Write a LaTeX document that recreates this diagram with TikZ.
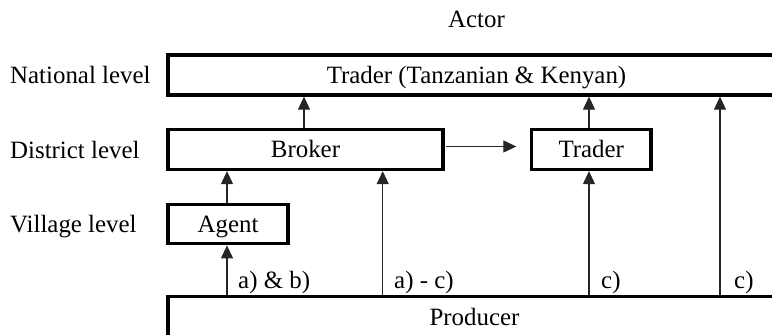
\documentclass[tikz,border=0pt]{standalone}
\usepackage{fontspec}
\setmainfont{Liberation Serif}
\usetikzlibrary{arrows.meta}
\begin{document}
\begin{tikzpicture}[x=1pt,y=-1pt,
  every node/.style={font=\fontsize{24.9}{28}\selectfont, inner sep=0pt},
  box/.style={draw, line width=3.3pt, text height=16pt, text depth=0pt},
  lvl/.style={anchor=base west},
  lab/.style={anchor=base west},
  conn/.style={line width=1.1pt, draw=black!85, -{Triangle[length=13pt,width=12pt]}}]
\useasboundingbox (0,0) rectangle (772,335);
\clip (0,0) rectangle (772,335);
% title
\node[anchor=base] (actor) at (476.5,27) {Actor};
% level labels
\node[lvl] (lnat) at (10,83) {National level};
\node[lvl] (ldis) at (10,158) {District level};
\node[lvl] (lvil) at (10,232) {Village level};
% boxes
\node[box, minimum width=617pt, minimum height=40pt] (nat) at (476.5,75) {Trader (Tanzanian \& Kenyan)};
\node[box, minimum width=275pt, minimum height=40pt] (broker) at (305.5,149.5) {Broker};
\node[box, minimum width=119.5pt, minimum height=40pt] (trader) at (591.25,149.5) {Trader};
\node[box, minimum width=120pt, minimum height=39.5pt] (agent) at (228,224) {Agent};
\node[box, minimum width=613pt, minimum height=41pt] (prod) at (474.5,317) {Producer};
% connector positions
\coordinate (xa) at (227,0);
\coordinate (xb) at (304,0);
\coordinate (xc) at (382.7,0);
\coordinate (xd) at (589,0);
\coordinate (xe) at (720,0);
\coordinate (yh) at (0,146.5);
% connectors
\draw[conn] (agent.north -| xa) -- (broker.south -| xa);
\draw[conn] (prod.north -| xa) -- (agent.south -| xa);
\draw[conn] (broker.north -| xb) -- (nat.south -| xb);
\draw[conn] (prod.north -| xc) -- (broker.south -| xc);
\draw[conn] (trader.north -| xd) -- (nat.south -| xd);
\draw[conn] (prod.north -| xd) -- (trader.south -| xd);
\draw[conn] (prod.north -| xe) -- (nat.south -| xe);
\draw[conn, shorten <=1.5pt, shorten >=13.5pt] (broker.east |- yh) -- (trader.west |- yh);
% connector labels
\node[lab] (la) at (238,288) {a) \& b)};
\node[lab] (lb) at (394,288) {a) - c)};
\node[lab] (lc) at (601,288) {c)};
\node[lab] (ld) at (734,288) {c)};
\end{tikzpicture}
\end{document}
